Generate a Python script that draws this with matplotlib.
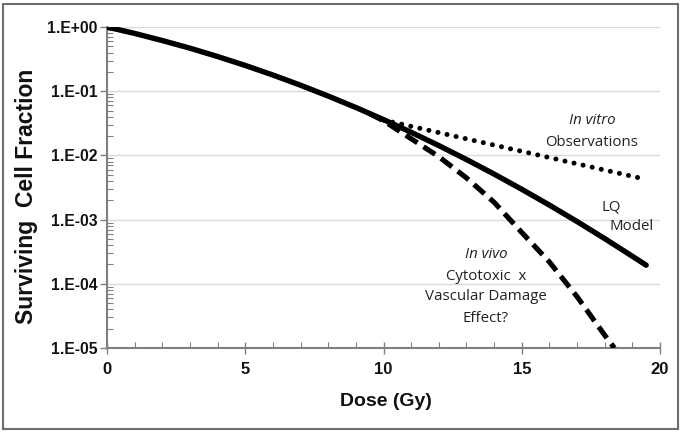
import matplotlib
matplotlib.use("Agg")
import matplotlib.pyplot as plt
from matplotlib.patches import Rectangle
import numpy as np

# Data (log10 of surviving fraction)
dose_lq = [0, 1, 2, 3, 4, 5, 6, 7, 8, 9, 10, 11, 12, 13, 14, 15, 16, 17, 18, 19, 19.5]
log_lq = [0.0, -0.100, -0.211, -0.330, -0.460, -0.599, -0.748, -0.907, -1.076, -1.254,
          -1.442, -1.640, -1.847, -2.064, -2.291, -2.528, -2.774, -3.030, -3.296, -3.571, -3.71]

dose_vitro = [10.0, 19.25]
log_vitro = [-1.45, -2.35]

dose_vivo = [9.5, 10, 11, 12, 13, 14, 15, 16, 17, 18, 18.35]
log_vivo = [-1.35, -1.46, -1.74, -2.02, -2.35, -2.73, -3.20, -3.66, -4.20, -4.80, -5.0]

ytick_vals = [1e0, 1e-1, 1e-2, 1e-3, 1e-4, 1e-5]
ytick_labels = ["1.E+00", "1.E-01", "1.E-02", "1.E-03", "1.E-04", "1.E-05"]
xtick_vals = [0, 5, 10, 15, 20]

fig = plt.figure(figsize=(6.82, 4.32), dpi=100)
ax = fig.add_axes([107/682, 1-348/432, (660-107)/682, (348-27)/432])

surv_lq = 10 ** np.array(log_lq)
surv_vitro = 10 ** np.array(log_vitro)
surv_vivo = 10 ** np.array(log_vivo)

ax.plot(dose_vitro, surv_vitro, color="black", lw=3.6, linestyle=(0, (0.01, 1.85)),
        solid_capstyle="round", dash_capstyle="round", zorder=3)
ax.plot(dose_vivo, surv_vivo, color="black", lw=3.7, linestyle=(0, (2.7, 1.4)),
        dash_capstyle="butt", zorder=3, clip_on=True)
ax.plot(dose_lq, surv_lq, color="black", lw=3.9, solid_capstyle="round", zorder=4)

ax.set_yscale("log")
ax.set_ylim(1e-5, 1)
ax.set_xlim(0, 20)

ax.set_yticks(ytick_vals)
ax.set_yticklabels(ytick_labels)
ax.set_xticks(xtick_vals)
ax.set_xticks(np.arange(0, 21, 1), minor=True)

for t in ax.get_yticklabels():
    t.set_fontfamily("Liberation Sans")
    t.set_fontweight("bold")
    t.set_fontsize(11.3)
    t.set_color("#111111")
for t in ax.get_xticklabels():
    t.set_fontfamily("Liberation Sans")
    t.set_fontweight("bold")
    t.set_fontsize(12)
    t.set_color("#111111")

ax.tick_params(axis="y", which="major", direction="out", length=5, width=1, color="#808080", pad=2)
ax.tick_params(axis="y", which="minor", direction="in", length=4, width=0.8, color="#808080")
ax.tick_params(axis="x", which="major", direction="inout", length=8, width=1, color="#808080", pad=6)
ax.tick_params(axis="x", which="minor", direction="in", length=4, width=0.8, color="#808080")

ax.grid(axis="y", which="major", color="#d9d9d9", lw=1)
ax.set_axisbelow(True)
for s in ["top", "right"]:
    ax.spines[s].set_visible(False)
for s in ["left", "bottom"]:
    ax.spines[s].set_color("#808080")
    ax.spines[s].set_linewidth(1.5)

fig.text(386/682, 1-402/432, "Dose (Gy)", ha="center", va="center",
         family="Liberation Sans", weight="bold", size=14, color="#111111")
fig.text(27/682, 1-196/432, "Surviving  Cell Fraction", rotation=90, ha="center", va="center",
         family="Liberation Sans", weight="bold", size=16.5, color="#111111")

tfont = dict(family="Open Sans", size=10.8, color="#222222", ha="center", va="center")

def place(xpx, ypx, s, **kw):
    d = dict(tfont)
    d.update(kw)
    fig.text(xpx/682, 1-ypx/432, s, **d)

place(592, 121, "In vitro", style="italic")
place(592, 142, "Observations")
place(611, 207, "LQ")
place(632, 227, "Model")
place(486, 255, "In vivo", style="italic")
place(486, 277, "Cytotoxic  x")
place(486, 297, "Vascular Damage")
place(486, 318, "Effect?")

fig.patches.append(Rectangle((3/682, 3/432), 675/682, 425/432, transform=fig.transFigure,
                             fill=False, edgecolor="#6e6e6e", lw=1.5))

fig.savefig("out.png", dpi=100)
